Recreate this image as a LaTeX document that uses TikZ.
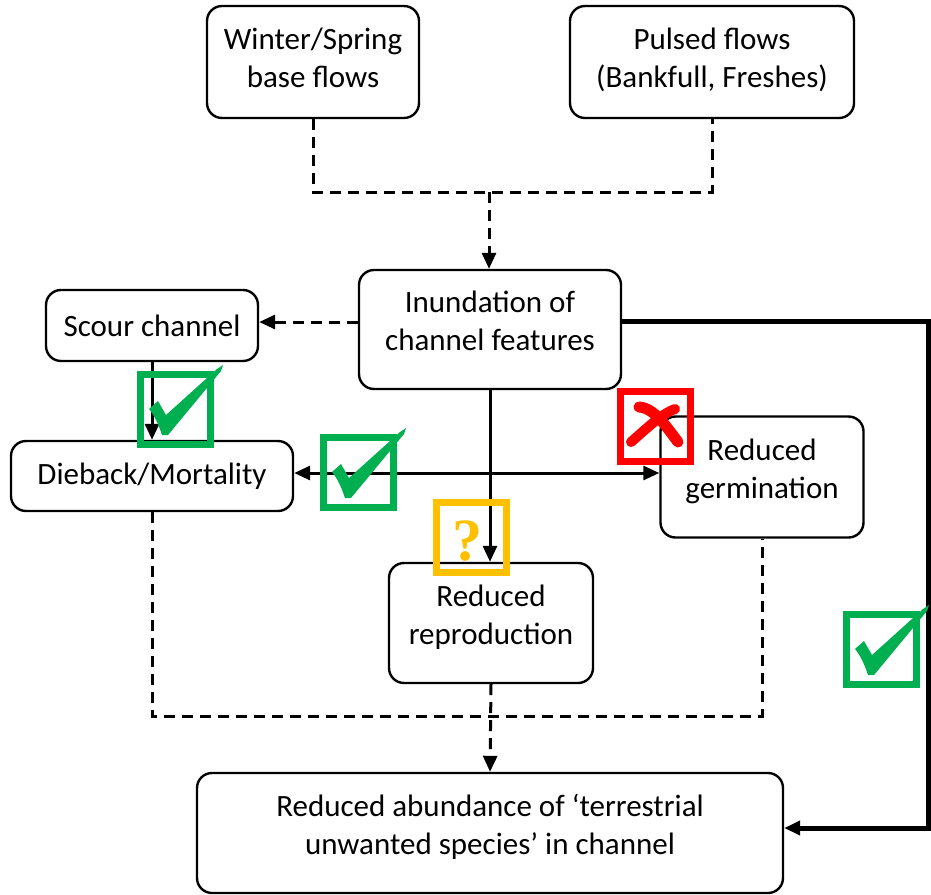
\documentclass[tikz,border=0pt]{standalone}
\usepackage{fontspec}
\setmainfont{Carlito}
\newfontfamily\qfont{Liberation Serif}
\usetikzlibrary{arrows.meta}
\definecolor{okgreen}{HTML}{00B050}
\definecolor{nored}{HTML}{FF0000}
\definecolor{qorange}{HTML}{FFC000}
\tikzset{
  box/.style={draw, line width=2.4pt, rounded corners=15pt, align=center, inner sep=0pt,
              font=\fontsize{31}{38}\selectfont},
  tallbox/.style={box, text depth=17pt},
  topbox/.style={box, text depth=8pt},
  solidline/.style={line width=3pt},
  boldline/.style={line width=5pt},
  dashline/.style={line width=3pt, dash pattern=on 11pt off 7pt},
  tip/.style={-{Triangle[length=16pt,width=14pt]}},
  okmark/.pic={
    \draw[okgreen, line width=7pt] (3.5,3.5) rectangle (73.5,73.5);
    \fill[okgreen] (12,38) -- (21,30) -- (29,44) -- (80,-2) -- (86,-6) -- (84,0)
      -- (31,64) -- (25,64) .. controls (21,52) and (17,44) .. cycle;
  },
  nomark/.pic={
    \draw[nored, line width=7pt] (3.5,3.5) rectangle (73.5,73.5);
    \draw[nored, line width=11pt, line cap=round] (22,19) .. controls (38,20) and (50,40) .. (61,54);
    \draw[nored, line width=10pt, line cap=round] (58,21) .. controls (44,26) and (28,42) .. (14,54);
  },
  qmark/.pic={
    \draw[qorange, line width=7pt] (3.5,3.5) rectangle (73.5,73.5);
    \node[text=qorange, inner sep=0pt, font=\qfont\bfseries\fontsize{60}{60}\selectfont] (q) at (34,42) {?};
  }
}
\begin{document}
\begin{tikzpicture}[x=1pt,y=-1pt]
  \useasboundingbox (0,0) rectangle (931,894);

  % boxes
  \node[topbox, minimum width=212pt, minimum height=112pt] (winter) at (313,62) {Winter/Spring\\base flows};
  \node[topbox, minimum width=284pt, minimum height=112pt] (pulsed) at (712,62) {Pulsed flows\\(Bankfull, Freshes)};
  \node[tallbox, minimum width=262pt, minimum height=119pt] (inund) at (490,329.5) {Inundation of\\channel features};
  \node[box, minimum width=212pt, minimum height=71pt] (scour) at (152,325.5) {Scour channel};
  \node[box, minimum width=282pt, minimum height=70pt] (dieback) at (152,476) {Dieback/Mortality};
  \node[tallbox, minimum width=203pt, minimum height=121pt] (germ) at (762,477) {Reduced\\germination};
  \node[tallbox, minimum width=204pt, minimum height=120pt] (repro) at (491,623) {Reduced\\reproduction};
  \node[tallbox, minimum width=586pt, minimum height=120pt] (abund) at (490,833) {Reduced abundance of `terrestrial\\unwanted species' in channel};

  % flows into inundation
  \coordinate (flowjoin) at (489,192);
  \draw[dashline] (winter.south) -- (winter.south |- flowjoin) -- (pulsed.south |- flowjoin) -- (pulsed.south);
  \draw[dashline, tip] (flowjoin) -- (flowjoin |- inund.north);

  % inundation effects
  \draw[dashline, tip] (inund.west |- 0,322) -- (scour.east |- 0,322);
  \draw[solidline, tip] (scour.south) -- (dieback.north);
  \draw[solidline, tip] (inund.south) -- (inund.south |- repro.north);
  \coordinate (cross) at (490,473);
  \draw[solidline, tip] (cross) -- (dieback.east |- cross);
  \draw[solidline, tip] (cross) -- (germ.west |- cross);
  \coordinate (rtop) at (928,321);
  \coordinate (rbot) at (928,828);
  \draw[boldline, tip] (inund.east |- rtop) -- (rtop) -- (rbot) -- (abund.east |- rbot);

  % paths to reduced abundance
  \coordinate (lowjoin) at (489,716);
  \draw[dashline] (dieback.south) -- (dieback.south |- lowjoin) -- (germ.south |- lowjoin) -- (germ.south);
  \draw[dashline, tip] (repro.south) -- (abund.north);

  % outcome marks
  \pic at (137,371) {okmark};
  \pic at (320,434) {okmark};
  \pic at (843,611) {okmark};
  \pic at (617,388) {nomark};
  \pic at (433,499) {qmark};
\end{tikzpicture}
\end{document}
